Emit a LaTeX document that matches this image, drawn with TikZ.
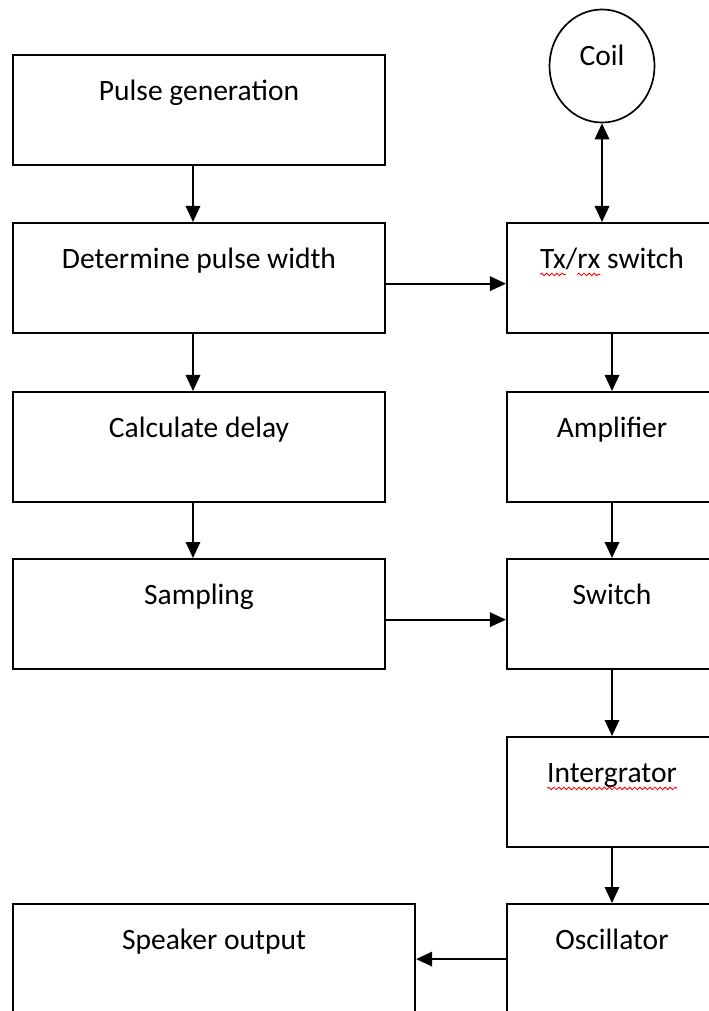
\documentclass[tikz,border=0pt]{standalone}
\usepackage{fontspec}
\setmainfont{Carlito}
\usetikzlibrary{arrows.meta,shapes.geometric,decorations.pathmorphing}
% red wavy line for the spell-check marks
\newbox\wavebox
\newcommand\spellwave[1]{\setbox\wavebox\hbox{#1}\copy\wavebox\tikz[overlay]\draw[red,line width=0.6pt,
  decorate,decoration={snake,amplitude=0.9pt,segment length=3.6pt}] (-\wd\wavebox,-4.5pt) -- (0pt,-4.5pt);}
\begin{document}
\begin{tikzpicture}[x=0.025cm,y=-0.025cm,
  box/.style={draw,line width=1.5pt,rectangle,inner xsep=2pt,inner ysep=0pt,
    text height=1.125cm,text depth=1.625cm,anchor=north,font=\fontsize{21}{24}\selectfont},
  leftbox/.style={box,minimum width=9.3cm},
  rightbox/.style={box,minimum width=5.25cm},
  arw/.style={-{Triangle[length=0.4cm,width=0.36cm]},line width=1.5pt}]
\clip (0,0) rectangle (709,1011);
% left column
\node[leftbox] (pulse) at (199,54) {Pulse generation};
\node[leftbox] (det) at (199,222) {Determine pulse width};
\node[leftbox] (delay) at (199,391) {Calculate delay};
\node[leftbox] (samp) at (199,558) {Sampling};
\node[box,minimum width=10.05cm] (spk) at (214,903) {Speaker output};
% right column
\node[draw,ellipse,line width=1.2pt,minimum width=2.625cm,minimum height=2.825cm,
  text height=0.45cm,text depth=0.45cm,font=\fontsize{21}{24}\selectfont] (coil) at (602,66) {Coil};
\node[rightbox] (txrx) at (612,222) {\spellwave{Tx}/\spellwave{rx} switch};
\node[rightbox] (amp) at (612,391) {Amplifier};
\node[rightbox] (sw) at (612,558) {Switch};
\node[rightbox] (integ) at (612,736) {\spellwave{Intergrator}};
\node[rightbox] (osc) at (612,903) {Oscillator};
% connectors
\draw[arw] ([xshift=-0.15cm]pulse.south) -- ([xshift=-0.15cm]det.north);
\draw[arw] ([xshift=-0.15cm]det.south) -- ([xshift=-0.15cm]delay.north);
\draw[arw] ([xshift=-0.15cm]delay.south) -- ([xshift=-0.15cm]samp.north);
\draw[arw] ([yshift=-0.14cm]det.east) -- ([yshift=-0.14cm]det.east -| txrx.west);
\draw[arw] ([yshift=-0.14cm]samp.east) -- ([yshift=-0.14cm]samp.east -| sw.west);
\draw[{Triangle[length=0.4cm,width=0.36cm]}-{Triangle[length=0.4cm,width=0.36cm]},line width=1.5pt]
  (coil.south) -- (coil.south |- txrx.north);
\draw[arw] (txrx.south) -- (amp.north);
\draw[arw] (amp.south) -- (sw.north);
\draw[arw] (sw.south) -- (integ.north);
\draw[arw] (integ.south) -- (osc.north);
\draw[arw] (osc.west) -- (spk.east);
\end{tikzpicture}
\end{document}
